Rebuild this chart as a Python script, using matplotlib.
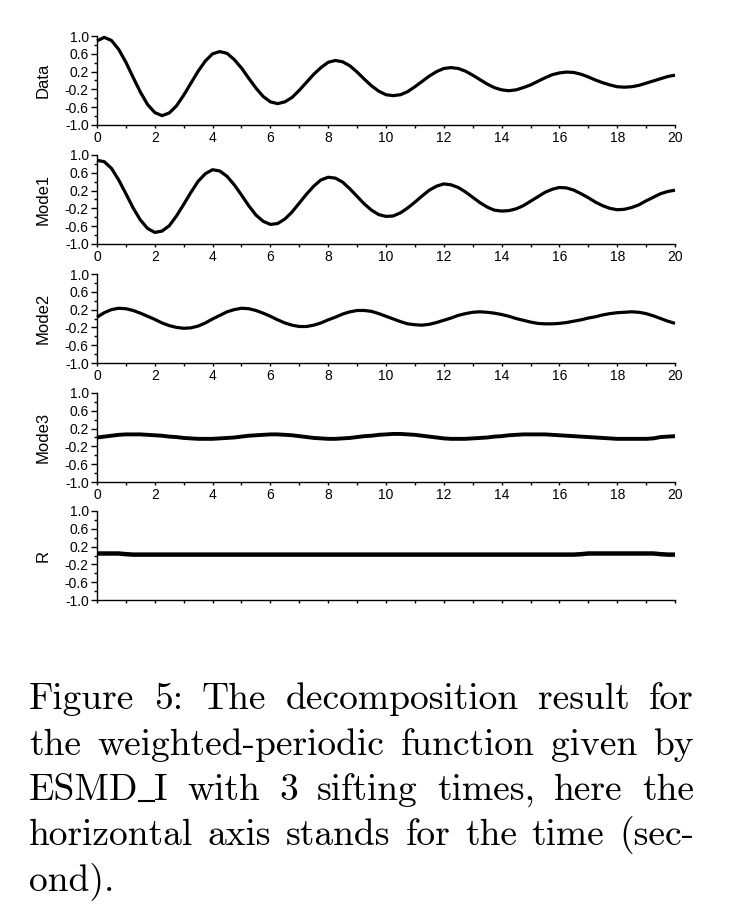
import numpy as np
import matplotlib
matplotlib.use("Agg")
import matplotlib.pyplot as plt
from matplotlib.lines import Line2D
from matplotlib.ticker import FixedLocator

# time axis (seconds), sampled every 0.25 s
t = np.linspace(0, 20, 81)

data = [0.89, 0.97, 0.90, 0.70, 0.41, 0.07, -0.26, -0.54, -0.72, -0.79, -0.73, -0.57, -0.33, -0.06, 0.21, 0.44,
        0.60, 0.65, 0.61, 0.47, 0.28, 0.05, -0.17, -0.36, -0.48, -0.52, -0.48, -0.38, -0.22, -0.04, 0.14, 0.29,
        0.41, 0.45, 0.42, 0.33, 0.19, 0.03, -0.12, -0.24, -0.32, -0.34, -0.32, -0.25, -0.14, -0.02, 0.10, 0.20,
        0.27, 0.29, 0.27, 0.21, 0.12, 0.02, -0.08, -0.16, -0.21, -0.23, -0.21, -0.16, -0.10, -0.02, 0.06, 0.13,
        0.17, 0.19, 0.18, 0.14, 0.08, 0.01, -0.05, -0.10, -0.14, -0.15, -0.14, -0.11, -0.06, -0.01, 0.04, 0.09,
        0.12]

mode1 = [0.88, 0.85, 0.70, 0.44, 0.13, -0.19, -0.46, -0.65, -0.74, -0.71, -0.59, -0.37, -0.11, 0.16, 0.41, 0.58,
         0.67, 0.64, 0.52, 0.33, 0.10, -0.14, -0.35, -0.49, -0.56, -0.54, -0.44, -0.28, -0.08, 0.12, 0.30, 0.44,
         0.50, 0.48, 0.39, 0.24, 0.07, -0.10, -0.24, -0.34, -0.38, -0.37, -0.30, -0.19, -0.06, 0.08, 0.21, 0.30,
         0.35, 0.33, 0.27, 0.17, 0.05, -0.07, -0.17, -0.24, -0.26, -0.25, -0.21, -0.14, -0.04, 0.06, 0.16, 0.23,
         0.27, 0.26, 0.21, 0.13, 0.04, -0.06, -0.14, -0.20, -0.23, -0.22, -0.18, -0.12, -0.03, 0.05, 0.13, 0.18,
         0.21]

mode2 = [0.03, 0.13, 0.20, 0.23, 0.22, 0.18, 0.12, 0.05, -0.02, -0.10, -0.16, -0.20, -0.22, -0.21, -0.17, -0.10,
         -0.01, 0.07, 0.15, 0.20, 0.23, 0.22, 0.18, 0.12, 0.05, -0.03, -0.10, -0.15, -0.18, -0.18, -0.15, -0.10,
         -0.03, 0.03, 0.10, 0.15, 0.18, 0.18, 0.16, 0.11, 0.05, -0.01, -0.07, -0.12, -0.14, -0.15, -0.13, -0.09,
         -0.04, 0.01, 0.07, 0.11, 0.14, 0.15, 0.14, 0.12, 0.09, 0.05, 0.00, -0.04, -0.08, -0.11, -0.12, -0.12,
         -0.11, -0.09, -0.06, -0.03, 0.01, 0.04, 0.08, 0.11, 0.13, 0.14, 0.15, 0.14, 0.11, 0.06, 0.00, -0.06,
         -0.11]

mode3 = [0.00, 0.02, 0.04, 0.06, 0.07, 0.07, 0.07, 0.06, 0.05, 0.04, 0.02, 0.01, -0.01, -0.02, -0.03, -0.03,
         -0.03, -0.02, -0.01, 0.00, 0.02, 0.04, 0.05, 0.06, 0.07, 0.07, 0.06, 0.05, 0.03, 0.01, -0.01, -0.02,
         -0.03, -0.03, -0.02, -0.01, 0.01, 0.03, 0.04, 0.06, 0.07, 0.08, 0.08, 0.07, 0.06, 0.04, 0.02, 0.00,
         -0.02, -0.03, -0.03, -0.03, -0.02, -0.01, 0.00, 0.02, 0.03, 0.05, 0.06, 0.07, 0.07, 0.07, 0.07, 0.06,
         0.05, 0.04, 0.03, 0.02, 0.01, 0.00, -0.01, -0.02, -0.03, -0.03, -0.03, -0.03, -0.03, -0.02, 0.01, 0.02,
         0.03]

resid = [0.045, 0.045, 0.045, 0.045, 0.03, 0.02, 0.02, 0.02, 0.02, 0.02, 0.02, 0.02, 0.02, 0.02, 0.02, 0.02,
         0.02, 0.02, 0.02, 0.02, 0.02, 0.02, 0.02, 0.02, 0.02, 0.02, 0.02, 0.02, 0.02, 0.02, 0.02, 0.02,
         0.02, 0.02, 0.02, 0.02, 0.02, 0.02, 0.02, 0.02, 0.02, 0.02, 0.02, 0.02, 0.02, 0.02, 0.02, 0.02,
         0.02, 0.02, 0.02, 0.02, 0.02, 0.02, 0.02, 0.02, 0.02, 0.02, 0.02, 0.02, 0.02, 0.02, 0.02, 0.02,
         0.02, 0.02, 0.02, 0.03, 0.045, 0.045, 0.045, 0.045, 0.045, 0.045, 0.045, 0.045, 0.045, 0.045, 0.03, 0.02,
         0.02]

series = [data, mode1, mode2, mode3, resid]
panel_names = ["Data", "Mode1", "Mode2", "Mode3", "R"]
line_widths = [2.3, 2.3, 2.3, 2.8, 3.2]

ytick_vals = [-1.0, -0.6, -0.2, 0.2, 0.6, 1.0]
ytick_labels = ["-1.0", "-0.6", "-0.2", "0.2", "0.6", "1.0"]
yminor_vals = [-0.8, -0.4, 0.0, 0.4, 0.8]
xtick_vals = [0, 2, 4, 6, 8, 10, 12, 14, 16, 18, 20]
xtick_labels = [str(v) for v in xtick_vals]
xminor_vals = [1, 3, 5, 7, 9, 11, 13, 15, 17, 19]

caption_lines = [
    "Figure 5: The decomposition result for",
    "the weighted-periodic function given by",
    "ESMD_I with 3 sifting times, here the",
    "horizontal axis stands for the time (sec-",
    "ond).",
]

W, H = 730, 922
fig = plt.figure(figsize=(W / 100, H / 100), dpi=100)
fig.patch.set_facecolor("white")

panel_tops = [36, 155, 274, 393, 511]
panel_h = 89
ax_left, ax_right = 97, 675

tick_font = dict(family="Liberation Sans", size=10)

for i, (name, ys) in enumerate(zip(panel_names, series)):
    top = panel_tops[i]
    ax = fig.add_axes([ax_left / W, 1 - (top + panel_h) / H,
                       (ax_right - ax_left) / W, panel_h / H])
    ax.plot(t, ys, color="black", lw=line_widths[i], clip_on=False,
            solid_capstyle="butt")
    ax.set_xlim(0, 20)
    ax.set_ylim(-1, 1)
    for s in ["top", "right"]:
        ax.spines[s].set_visible(False)
    for s in ["left", "bottom"]:
        ax.spines[s].set_linewidth(1.0)

    ax.set_yticks(ytick_vals)
    ax.set_yticklabels(ytick_labels, fontdict=tick_font)
    ax.yaxis.set_minor_locator(FixedLocator(yminor_vals))
    ax.set_xticks(xtick_vals)
    if i < len(panel_names) - 1:
        ax.set_xticklabels(xtick_labels, fontdict=tick_font)
    else:
        ax.set_xticklabels([])
    ax.xaxis.set_minor_locator(FixedLocator(xminor_vals))

    ax.tick_params(axis="y", which="major", length=4.5, width=1.0, pad=1.5, direction="out")
    ax.tick_params(axis="y", which="minor", length=2.5, width=1.0, direction="out")
    ax.tick_params(axis="x", which="major", length=2.5, width=1.0, pad=2.0, direction="out")
    ax.tick_params(axis="x", which="minor", length=2.0, width=1.0, direction="out")

    ax.set_ylabel(name, family="Liberation Sans", fontsize=12)
    ax.yaxis.set_label_coords((51 - ax_left) / (ax_right - ax_left), 0.5)

# caption, justified like the LaTeX paragraph
cap_size = 27
cap_font = dict(family="cmr10", fontsize=cap_size)
cap_left, cap_right = 29, 694
cap_baselines = [709, 755, 800, 845, 890]
em_px = cap_size * 100 / 72
us_width = 0.42 * em_px

renderer = fig.canvas.get_renderer()


def text_width(s):
    tmp = fig.text(0, 0, s, **cap_font)
    w = tmp.get_window_extent(renderer).width
    tmp.remove()
    return w


def word_width(w):
    if "_" in w:
        a, b = w.split("_")
        return text_width(a) + us_width + text_width(b)
    return text_width(w)


def put_word(x, y, w):
    fy = 1 - y / H
    if "_" in w:
        a, b = w.split("_")
        fig.text(x / W, fy, a, ha="left", va="baseline", **cap_font)
        x += text_width(a)
        fig.add_artist(Line2D([(x + 0.5) / W, (x + us_width - 0.5) / W],
                              [fy - 1.0 / H, fy - 1.0 / H], color="black", lw=1.5))
        x += us_width
        fig.text(x / W, fy, b, ha="left", va="baseline", **cap_font)
    else:
        fig.text(x / W, fy, w, ha="left", va="baseline", **cap_font)


for k, (line, base) in enumerate(zip(caption_lines, cap_baselines)):
    words = line.split(" ")
    widths = [word_width(w) for w in words]
    if k < len(caption_lines) - 1 and len(words) > 1:
        gap = (cap_right - cap_left - sum(widths)) / (len(words) - 1)
    else:
        gap = 0.333 * em_px
    x = cap_left
    for w, wd in zip(words, widths):
        put_word(x, base, w)
        x += wd + gap

fig.savefig("out.png", dpi=100, facecolor="white")
